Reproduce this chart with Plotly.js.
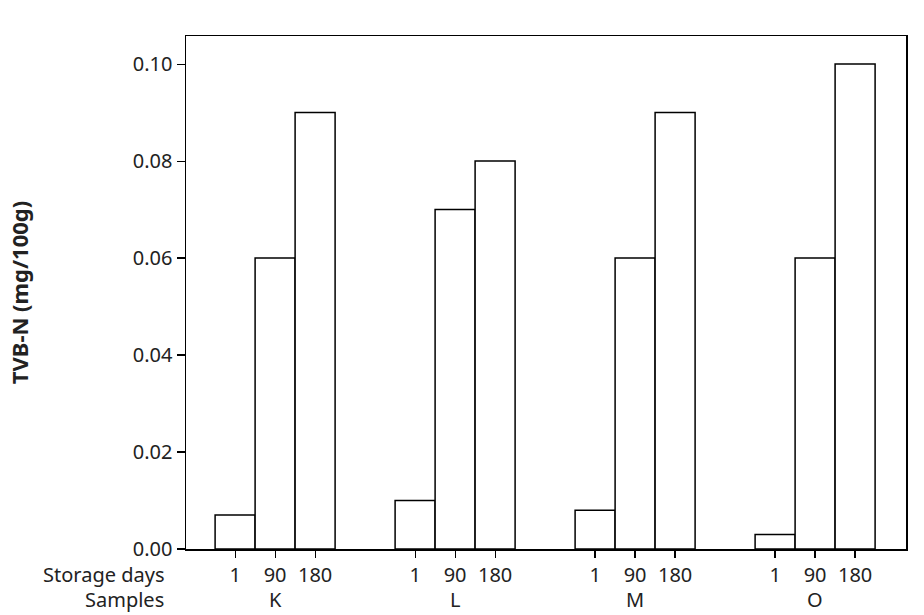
<!DOCTYPE html>
<html>
<head>
<meta charset="utf-8">
<script src="https://cdn.plot.ly/plotly-3.0.1.min.js"></script>
<style>
  html, body { margin: 0; padding: 0; background: #fff; }
  #chart { width: 924px; height: 615px; }
</style>
</head>
<body>
<div id="chart"></div>
<script>
// ---- data ----
const samples = ['K', 'L', 'M', 'O'];
const storageDays = ['1', '90', '180'];
const day1 = [0.007, 0.010, 0.008, 0.003];
const day90 = [0.060, 0.070, 0.060, 0.060];
const day180 = [0.090, 0.080, 0.090, 0.100];
const yTicks = [0.00, 0.02, 0.04, 0.06, 0.08, 0.10];

const series = [day1, day90, day180];
const groupX = samples.map((s, i) => i);
const bargap = 1 / 3;
const barW = (1 - bargap) / storageDays.length;

const FONT = 'Noto Sans, DejaVu Sans, sans-serif';
const TXT = '#222';

const traces = series.map((vals, j) => ({
  type: 'bar',
  name: storageDays[j],
  x: groupX,
  y: vals,
  marker: { color: '#ffffff', line: { color: '#000', width: 1.5 } },
  hoverinfo: 'x+y'
}));

// tick positions at the centre of each bar within each sample group
const tickvals = [], ticktext = [];
groupX.forEach(g => {
  storageDays.forEach((d, j) => {
    tickvals.push(g + (j - (storageDays.length - 1) / 2) * barW);
    ticktext.push(d);
  });
});

const annotations = samples.map((s, i) => ({
  text: s, x: i, xref: 'x', y: -0.0994, yref: 'paper',
  xanchor: 'center', yanchor: 'middle', showarrow: false, borderpad: 0,
  font: { family: FONT, size: 20, color: TXT }
}));
annotations.push({
  text: 'Storage days', x: -0.029, xref: 'paper', y: -0.049, yref: 'paper',
  xanchor: 'right', yanchor: 'middle', showarrow: false, borderpad: 0,
  font: { family: FONT, size: 20, color: TXT }
});
annotations.push({
  text: 'Samples', x: -0.029, xref: 'paper', y: -0.0994, yref: 'paper',
  xanchor: 'right', yanchor: 'middle', showarrow: false, borderpad: 0,
  font: { family: FONT, size: 20, color: TXT }
});

const layout = {
  width: 924, height: 615,
  margin: { l: 186, r: 18, t: 36, b: 66 },
  paper_bgcolor: '#fff', plot_bgcolor: '#fff',
  showlegend: false,
  barmode: 'group', bargap: bargap, bargroupgap: 0,
  font: { family: FONT, size: 20, color: TXT },
  xaxis: {
    range: [-0.495, 3.505],
    tickmode: 'array', tickvals: tickvals, ticktext: ticktext,
    ticks: 'outside', ticklen: 7, tickwidth: 1.2, tickcolor: '#000',
    showline: true, linecolor: '#000', linewidth: 1.5, mirror: true,
    showgrid: false, zeroline: false,
    tickfont: { family: FONT, size: 20, color: TXT }
  },
  yaxis: {
    range: [0, 0.1058],
    tickmode: 'array', tickvals: yTicks, tickformat: '.2f',
    ticks: 'outside', ticklen: 8, tickwidth: 1.2, tickcolor: '#000',
    showline: true, linecolor: '#000', linewidth: 1.5, mirror: true,
    showgrid: false, zeroline: false,
    tickfont: { family: FONT, size: 20, color: TXT },
    title: { text: 'TVB-N (mg/100g)', standoff: 98,
             font: { family: FONT, size: 22, color: TXT, weight: 'bold' } }
  },
  annotations: annotations
};

Plotly.newPlot('chart', traces, layout, { displayModeBar: false, staticPlot: true });
</script>
</body>
</html>
